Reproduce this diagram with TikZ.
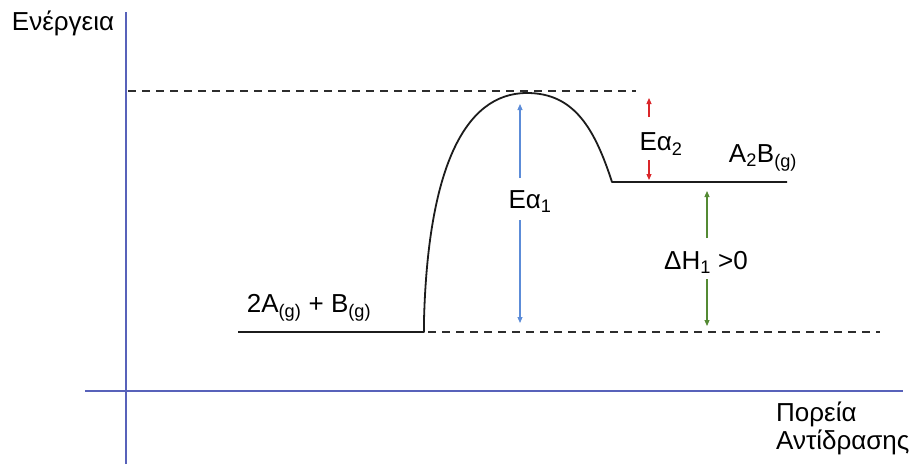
\documentclass[tikz,border=0pt]{standalone}
\usepackage{fontspec}
\setmainfont{Liberation Sans}
\usetikzlibrary{arrows.meta}
\definecolor{axisblue}{RGB}{88,98,186}
\definecolor{arrblue}{RGB}{92,140,216}
\definecolor{arrred}{RGB}{218,38,42}
\definecolor{arrgreen}{RGB}{84,138,52}
\definecolor{curvecol}{RGB}{28,28,28}
\definecolor{dashcol}{RGB}{45,45,45}
\tikzset{
  axisline/.style={draw=axisblue, line width=1.8pt},
  level/.style={draw=curvecol, line width=1.8pt},
  dashlevel/.style={draw=dashcol, line width=1.3pt, dash pattern=on 8pt off 6pt},
  lbl/.style={inner sep=0pt, font=\fontsize{26}{30}\selectfont, text=black},
  varrow/.style={line width=1.1pt, -{Triangle[length=6pt,width=5pt]}},
}
\begin{document}
\begin{tikzpicture}[x=1pt,y=-1pt]
\useasboundingbox (0,0) rectangle (916,464);
% axes
\coordinate (ytop) at (126,12);
\coordinate (ybot) at (126,464);
\coordinate (xl) at (85,391);
\coordinate (xr) at (903,391);
\draw[axisline] (ybot) -- (ytop);
\draw[axisline] (xl) -- (xr);
% levels
\coordinate (r0) at (238,332);
\coordinate (r1) at (424,332);
\coordinate (r2) at (424,320);
\coordinate (peak) at (527,93);
\coordinate (p0) at (612,182);
\coordinate (p1) at (787,182);
\draw[level, line join=round] (r0) -- (r1) -- (r2) .. controls (428,172) and (463,93) .. (peak)
  .. controls (575,93) and (595,130) .. (p0) -- (p1);
% dashed lines
\coordinate (dt0) at (128,91);
\coordinate (dt1) at (636,91);
\coordinate (db0) at (428,332);
\coordinate (db1) at (880,332);
\draw[dashlevel] (dt0) -- (dt1);
\draw[dashlevel] (db0) -- (db1);
% labels
\node[lbl] (energy) at (63,23) {Ενέργεια};
\node[lbl, align=left, anchor=north west] (course) at (776,402) {Πορεία\\[-2pt]Αντίδρασης};
\node[lbl] (react) at (309,308) {2A\textsubscript{(g)} + B\textsubscript{(g)}};
\node[lbl] (prod) at (763,158) {A\textsubscript{2}B\textsubscript{(g)}};
% Ea1
\node[lbl] (ea1) at (530,202) {Eα\textsubscript{1}};
\coordinate (b1) at (520,178);
\coordinate (b2) at (520,220);
\coordinate (b1t) at (520,104);
\coordinate (b2t) at (520,323);
\draw[varrow, arrblue] (b1) -- (b1t);
\draw[varrow, arrblue] (b2) -- (b2t);
% Ea2
\node[lbl] (ea2) at (661,144) {Eα\textsubscript{2}};
\coordinate (c1) at (649,117);
\coordinate (c1t) at (649,98);
\coordinate (c2) at (649,160);
\coordinate (c2t) at (649,180);
\draw[varrow, arrred] (c1) -- (c1t);
\draw[varrow, arrred] (c2) -- (c2t);
% dH
\node[lbl] (dh) at (706,262) {ΔH\textsubscript{1} >0};
\coordinate (g1) at (707,238);
\coordinate (g1t) at (707,191);
\coordinate (g2) at (707,279);
\coordinate (g2t) at (707,326);
\draw[varrow, arrgreen] (g1) -- (g1t);
\draw[varrow, arrgreen] (g2) -- (g2t);
\end{tikzpicture}
\end{document}
